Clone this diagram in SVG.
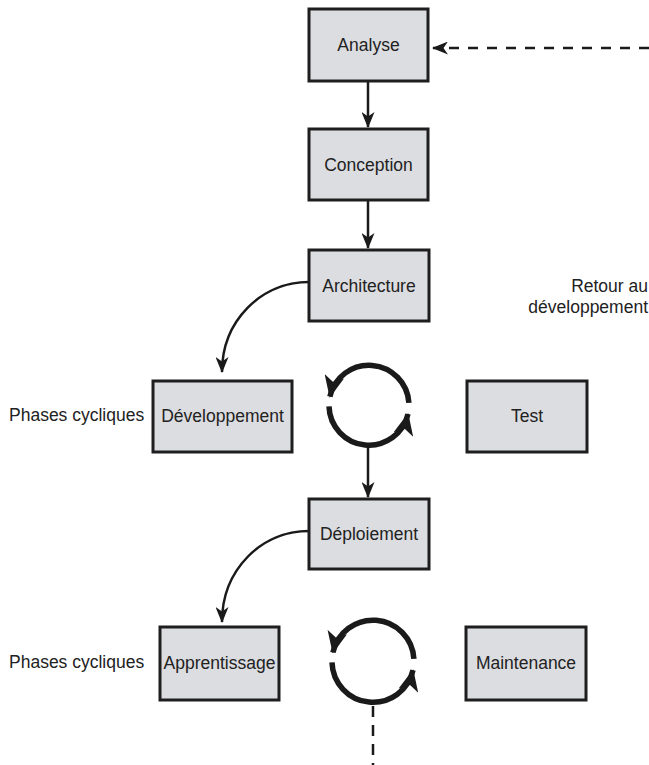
<svg xmlns="http://www.w3.org/2000/svg" width="649" height="765" viewBox="0 0 649 765">
<style>
.box{fill:#dcdde0;stroke:#1e1e1e;stroke-width:3}
.t{font-family:"Liberation Sans",Arial,sans-serif;font-size:17.5px;fill:#222}
.c{text-anchor:middle}
.ln{fill:none;stroke:#1a1a1a;stroke-width:2.5}
.cy{fill:none;stroke:#1a1a1a;stroke-width:5.5}
</style>
<defs>
<marker id="ah" markerUnits="userSpaceOnUse" markerWidth="16" markerHeight="13" refX="15" refY="6.5" orient="auto" viewBox="0 0 16 13">
<path d="M0,0 L16,6.5 L0,13 L4.5,6.5 z" fill="#1a1a1a"/>
</marker>
<marker id="ahc" markerUnits="userSpaceOnUse" markerWidth="22" markerHeight="20" refX="21" refY="10" orient="auto" viewBox="0 0 22 20">
<path d="M0,0 L22,10 L0,20 L6,10 z" fill="#1a1a1a"/>
</marker>
</defs>
<g id="connectors">
<path class="ln" d="M649,48 L433,48" stroke-dasharray="10 9" marker-end="url(#ah)"/>
<path class="ln" d="M368,81 L368,127" marker-end="url(#ah)"/>
<path class="ln" d="M368,200 L368,248" marker-end="url(#ah)"/>
<path class="ln" d="M309,282 C261,282 222,321 222,372" marker-end="url(#ah)"/>
<path class="ln" d="M368,446 L368,497" marker-end="url(#ah)"/>
<path class="ln" d="M309,531 C261,531 222,570 222,622" marker-end="url(#ah)"/>
<path class="ln" d="M373,706 L373,765" stroke-dasharray="11 8"/>
</g>
<g id="cycle1">
<path class="cy" d="M408.9,402.9 A40,40 0 0 0 329.9,396.7" marker-end="url(#ahc)"/>
<path class="cy" d="M329,406.4 A40,40 0 0 0 408,414" marker-end="url(#ahc)"/>
</g>
<g id="cycle2">
<path class="cy" d="M413.9,658.9 A41,41 0 0 0 332.9,652.5" marker-end="url(#ahc)"/>
<path class="cy" d="M332,662.4 A41,41 0 0 0 413,670.2" marker-end="url(#ahc)"/>
</g>
<g id="analyse"><rect class="box" x="309" y="9" width="119" height="72"/><text class="t c" x="368.5" y="51">Analyse</text></g>
<g id="conception"><rect class="box" x="309" y="129" width="119" height="71"/><text class="t c" x="368.5" y="171">Conception</text></g>
<g id="architecture"><rect class="box" x="309" y="250" width="120" height="71"/><text class="t c" x="369" y="292">Architecture</text></g>
<g id="developpement"><rect class="box" x="153" y="381" width="139" height="71"/><text class="t c" x="222.5" y="422">Développement</text></g>
<g id="test"><rect class="box" x="467" y="381" width="120" height="71"/><text class="t c" x="527" y="422">Test</text></g>
<g id="deploiement"><rect class="box" x="309" y="499" width="120" height="70"/><text class="t c" x="369" y="540">Déploiement</text></g>
<g id="apprentissage"><rect class="box" x="160" y="627" width="119" height="73"/><text class="t c" x="219.5" y="669">Apprentissage</text></g>
<g id="maintenance"><rect class="box" x="466" y="627" width="120" height="73"/><text class="t c" x="526" y="669">Maintenance</text></g>
<g id="labels">
<text class="t" x="9" y="421">Phases cycliques</text>
<text class="t" x="9" y="668">Phases cycliques</text>
<text class="t" x="648" y="292" text-anchor="end">Retour au</text>
<text class="t" x="648" y="313" text-anchor="end">développement</text>
</g>
</svg>
